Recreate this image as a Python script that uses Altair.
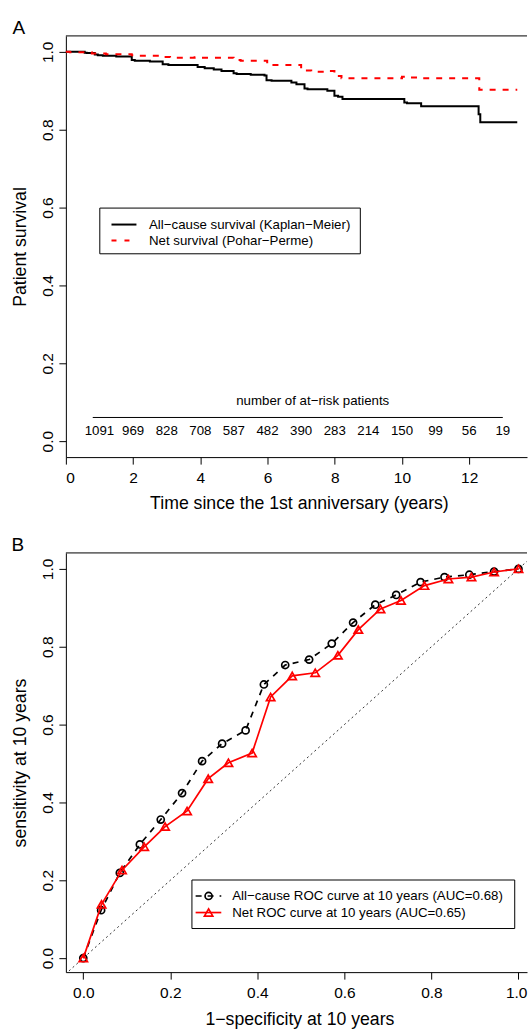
import altair as alt
import pandas as pd

FONT = "Liberation Sans"

# ---- Panel A: survival curves (years since 1st anniversary, survival after each step)
km_time = [0, 0.56, 0.62, 0.86, 0.95, 1.10, 1.5, 1.96, 2.05, 2.5, 2.88, 3.05, 3.92, 4.13,
           4.4, 4.63, 4.99, 5.08, 5.5, 5.91, 5.97, 6.12, 6.71, 6.86, 7.10, 7.19, 7.78,
           7.99, 8.1, 8.23, 10.07, 10.15, 10.57, 12.28, 12.33, 13.43]
km_surv = [1.0, 0.998, 0.997, 0.993, 0.991, 0.990, 0.988, 0.979, 0.977, 0.975, 0.968,
           0.966, 0.961, 0.958, 0.955, 0.951, 0.945, 0.943, 0.941, 0.939, 0.927, 0.926,
           0.921, 0.917, 0.906, 0.904, 0.900, 0.887, 0.885, 0.879, 0.870, 0.868, 0.860,
           0.840, 0.8195, 0.8195]

net_time = [0, 0.12, 0.77, 1.19, 1.96, 2.1, 2.79, 3.1, 3.83, 4.0, 4.99, 5.2, 5.99, 6.1,
            7.0, 7.1, 7.3, 7.7, 7.99, 8.2, 10.0, 10.15, 10.57, 12.3, 13.43]
net_surv = [1.0, 0.999, 0.996, 0.994, 0.991, 0.990, 0.987, 0.985, 0.986, 0.985, 0.979,
            0.977, 0.968, 0.966, 0.955, 0.952, 0.949, 0.951, 0.938, 0.932, 0.936, 0.934,
            0.932, 0.9026, 0.9026]

risk_time = [1, 2, 3, 4, 5, 6, 7, 8, 9, 10, 11, 12, 13]
risk_count = [1091, 969, 828, 708, 587, 482, 390, 283, 214, 150, 99, 56, 19]
risk_span = [0.8, 13.0]

# ---- Panel B: time-dependent ROC curves at 10 years
roc_all_fpr = [0, 0.041, 0.084, 0.130, 0.178, 0.227, 0.273, 0.319, 0.373, 0.415, 0.464,
               0.519, 0.571, 0.620, 0.671, 0.719, 0.775, 0.830, 0.887, 0.944, 1.0]
roc_all_tpr = [0, 0.123, 0.219, 0.292, 0.356, 0.424, 0.506, 0.551, 0.585, 0.703, 0.753,
               0.767, 0.808, 0.862, 0.908, 0.933, 0.966, 0.979, 0.985, 0.993, 1.0]
roc_net_fpr = [0, 0.042, 0.089, 0.140, 0.188, 0.2385, 0.287, 0.3335, 0.388, 0.4305, 0.480,
               0.533, 0.585, 0.632, 0.683, 0.730, 0.784, 0.839, 0.892, 0.944, 1.0]
roc_net_tpr = [0, 0.138, 0.226, 0.286, 0.338, 0.378, 0.461, 0.502, 0.527, 0.671, 0.725,
               0.733, 0.778, 0.844, 0.897, 0.919, 0.957, 0.974, 0.979, 0.992, 1.0]
diag = [-0.05, 1.05]

unit_ticks = [0, 0.2, 0.4, 0.6, 0.8, 1.0]

W = 462
H_TOP = 422
H_BOT = 420

# ---------------- Panel A ----------------
x_top = alt.X(
    "t:Q",
    scale=alt.Scale(domain=[0, 13.72], nice=False, zero=False),
    axis=alt.Axis(title="Time since the 1st anniversary (years)",
                  values=[0, 2, 4, 6, 8, 10, 12], format="d", labelPadding=6.5,
                  titleX=233.5, titleY=51, titleAlign="center",
                  titleBaseline="alphabetic"),
)
y_top = alt.Y(
    "s:Q",
    scale=alt.Scale(domain=[-0.041, 1.041], nice=False, zero=False),
    axis=alt.Axis(title="Patient survival", values=unit_ticks, format=".1f",
                  labelAngle=270, labelAlign="center", labelBaseline="alphabetic",
                  labelPadding=6.3, titleAngle=270, titleX=-40.5, titleY=H_TOP / 2,
                  titleAlign="center", titleBaseline="alphabetic"),
)

km_df = pd.DataFrame({"t": km_time, "s": km_surv})
net_df = pd.DataFrame({"t": net_time, "s": net_surv})

km_line = alt.Chart(km_df).mark_line(
    interpolate="step-after", color="black", strokeWidth=2
).encode(x=x_top, y=y_top)

net_line = alt.Chart(net_df).mark_line(
    interpolate="step-after", color="#ff0000", strokeWidth=2, strokeDash=[6, 7]
).encode(x=x_top, y=y_top)

top_border = alt.Chart().mark_rule(color="black", strokeWidth=1).encode(
    x=alt.value(0), x2=alt.value(W), y=alt.value(0)
)

# invisible frame fixing the page's top-left corner
top_frame = alt.Chart().mark_rect(fillOpacity=0, strokeOpacity=0).encode(
    x=alt.value(-66), x2=alt.value(W), y=alt.value(-35), y2=alt.value(0)
)

risk_df = pd.DataFrame({"t": risk_time, "n": risk_count})
risk_numbers = alt.Chart(risk_df).mark_text(
    font=FONT, fontSize=13.3, color="black", align="center", baseline="middle"
).encode(x=x_top, y=alt.value(395.7), text="n:Q")

risk_rule = alt.Chart(pd.DataFrame({"t": [risk_span[0]], "t2": [risk_span[1]]})).mark_rule(
    color="black", strokeWidth=1
).encode(x=x_top, x2="t2:Q", y=alt.value(382.3))

risk_title = alt.Chart().mark_text(
    text="number of at\u2212risk patients", font=FONT, fontSize=13.3, color="black",
    align="center", baseline="middle"
).encode(x=alt.value(247.3), y=alt.value(365.7))

leg_a_box = alt.Chart().mark_rect(fill="white", stroke="black", strokeWidth=1).encode(
    x=alt.value(34), x2=alt.value(295), y=alt.value(172.5), y2=alt.value(218.3)
)
leg_a_km = alt.Chart().mark_rule(color="black", strokeWidth=2).encode(
    x=alt.value(45.7), x2=alt.value(70.7), y=alt.value(189)
)
leg_a_net = alt.Chart().mark_rule(color="#ff0000", strokeWidth=2, strokeDash=[5, 8]).encode(
    x=alt.value(45.7), x2=alt.value(70.7), y=alt.value(205)
)
leg_a_t1 = alt.Chart().mark_text(
    text="All\u2212cause survival (Kaplan\u2212Meier)", font=FONT, fontSize=13.3,
    color="black", align="left", baseline="middle"
).encode(x=alt.value(83.3), y=alt.value(189))
leg_a_t2 = alt.Chart().mark_text(
    text="Net survival (Pohar\u2212Perme)", font=FONT, fontSize=13.3,
    color="black", align="left", baseline="middle"
).encode(x=alt.value(83.3), y=alt.value(205))

label_a = alt.Chart().mark_text(
    text="A", font=FONT, fontSize=19, color="black", align="left", baseline="alphabetic"
).encode(x=alt.value(-53.5), y=alt.value(-1.7))

panel_a = alt.layer(
    top_frame, km_line, net_line, top_border, risk_title, risk_rule, risk_numbers,
    leg_a_box, leg_a_km, leg_a_net, leg_a_t1, leg_a_t2, label_a
).properties(width=W, height=H_TOP)

# ---------------- Panel B ----------------
x_bot = alt.X(
    "fpr:Q",
    scale=alt.Scale(domain=[-0.04, 1.0196], nice=False, zero=False),
    axis=alt.Axis(title="1\u2212specificity at 10 years", values=unit_ticks, format=".1f",
                  labelPadding=6.5, labelFlush=10, labelFlushOffset=8.5,
                  titleX=234, titleY=52.3, titleAlign="center",
                  titleBaseline="alphabetic"),
)
y_bot = alt.Y(
    "tpr:Q",
    scale=alt.Scale(domain=[-0.036, 1.041], nice=False, zero=False),
    axis=alt.Axis(title="sensitivity at 10 years", values=unit_ticks, format=".1f",
                  labelAngle=270, labelAlign="center", labelBaseline="alphabetic",
                  labelPadding=6.3, titleAngle=270, titleX=-40.5, titleY=H_BOT / 2,
                  titleAlign="center", titleBaseline="alphabetic"),
)

all_df = pd.DataFrame({"fpr": roc_all_fpr, "tpr": roc_all_tpr,
                       "k": list(range(len(roc_all_fpr)))})
net_roc_df = pd.DataFrame({"fpr": roc_net_fpr, "tpr": roc_net_tpr,
                           "k": list(range(len(roc_net_fpr)))})
diag_df = pd.DataFrame({"fpr": diag, "tpr": diag})

diag_line = alt.Chart(diag_df).mark_line(
    color="#333333", strokeWidth=1, strokeDash=[2, 3], clip=True
).encode(x=x_bot, y=y_bot)

all_line = alt.Chart(all_df).mark_line(
    color="black", strokeWidth=1.7, strokeDash=[6, 6]
).encode(x=x_bot, y=y_bot, order="k:Q")
all_pts = alt.Chart(all_df).mark_point(
    shape="circle", size=50, filled=False, color="black", strokeWidth=1.7, opacity=1
).encode(x=x_bot, y=y_bot)

net_roc_line = alt.Chart(net_roc_df).mark_line(
    color="#ff0000", strokeWidth=1.7
).encode(x=x_bot, y=y_bot, order="k:Q")
net_pts = alt.Chart(net_roc_df).mark_point(
    shape="triangle-up", size=70, filled=False, color="#ff0000", strokeWidth=1.7, opacity=1
).encode(x=x_bot, y=y_bot)

bot_border = alt.Chart().mark_rule(color="black", strokeWidth=1).encode(
    x=alt.value(0), x2=alt.value(W), y=alt.value(0)
)

# invisible frame fixing the page's bottom edge
bot_frame = alt.Chart().mark_rect(fillOpacity=0, strokeOpacity=0).encode(
    x=alt.value(0), x2=alt.value(1), y=alt.value(H_BOT), y2=alt.value(476)
)

leg_b_box = alt.Chart().mark_rect(fill="white", stroke="black", strokeWidth=1).encode(
    x=alt.value(126.3), x2=alt.value(449.7), y=alt.value(327.7), y2=alt.value(376.3)
)
leg_b_l1 = alt.Chart().mark_rule(color="black", strokeWidth=1.7, strokeDash=[6, 6]).encode(
    x=alt.value(130), x2=alt.value(155.7), y=alt.value(343.7)
)
leg_b_p1 = alt.Chart().mark_point(
    shape="circle", size=50, filled=False, color="black", strokeWidth=1.7, opacity=1
).encode(x=alt.value(143), y=alt.value(343.7))
leg_b_l2 = alt.Chart().mark_rule(color="#ff0000", strokeWidth=1.7).encode(
    x=alt.value(130), x2=alt.value(155.7), y=alt.value(360.3)
)
leg_b_p2 = alt.Chart().mark_point(
    shape="triangle-up", size=70, filled=False, color="#ff0000", strokeWidth=1.7, opacity=1
).encode(x=alt.value(143), y=alt.value(360.3))
leg_b_t1 = alt.Chart().mark_text(
    text="All\u2212cause ROC curve at 10 years (AUC=0.68)", font=FONT, fontSize=13.3,
    color="black", align="left", baseline="middle"
).encode(x=alt.value(166.7), y=alt.value(343.7))
leg_b_t2 = alt.Chart().mark_text(
    text="Net ROC curve at 10 years (AUC=0.65)", font=FONT, fontSize=13.3,
    color="black", align="left", baseline="middle"
).encode(x=alt.value(166.7), y=alt.value(360.3))

label_b = alt.Chart().mark_text(
    text="B", font=FONT, fontSize=19, color="black", align="left", baseline="alphabetic"
).encode(x=alt.value(-54.6), y=alt.value(-2.3))

panel_b = alt.layer(
    bot_frame, diag_line, all_line, all_pts, net_roc_line, net_pts, bot_border,
    leg_b_box, leg_b_l1, leg_b_p1, leg_b_l2, leg_b_p2, leg_b_t1, leg_b_t2, label_b
).properties(width=W, height=H_BOT)

chart = alt.vconcat(panel_a, panel_b, spacing=96, bounds="flush").properties(
    padding=0
).configure_view(
    stroke=None
).configure_axis(
    grid=False, domainColor="black", domainWidth=1, tickColor="black", tickWidth=1,
    tickSize=7, labelColor="black", titleColor="black", labelFont=FONT, titleFont=FONT,
    labelFontSize=15.5, titleFontSize=17.7, titleFontWeight="normal"
)

chart.save("out.html", embed_options={"renderer": "svg", "actions": False})
